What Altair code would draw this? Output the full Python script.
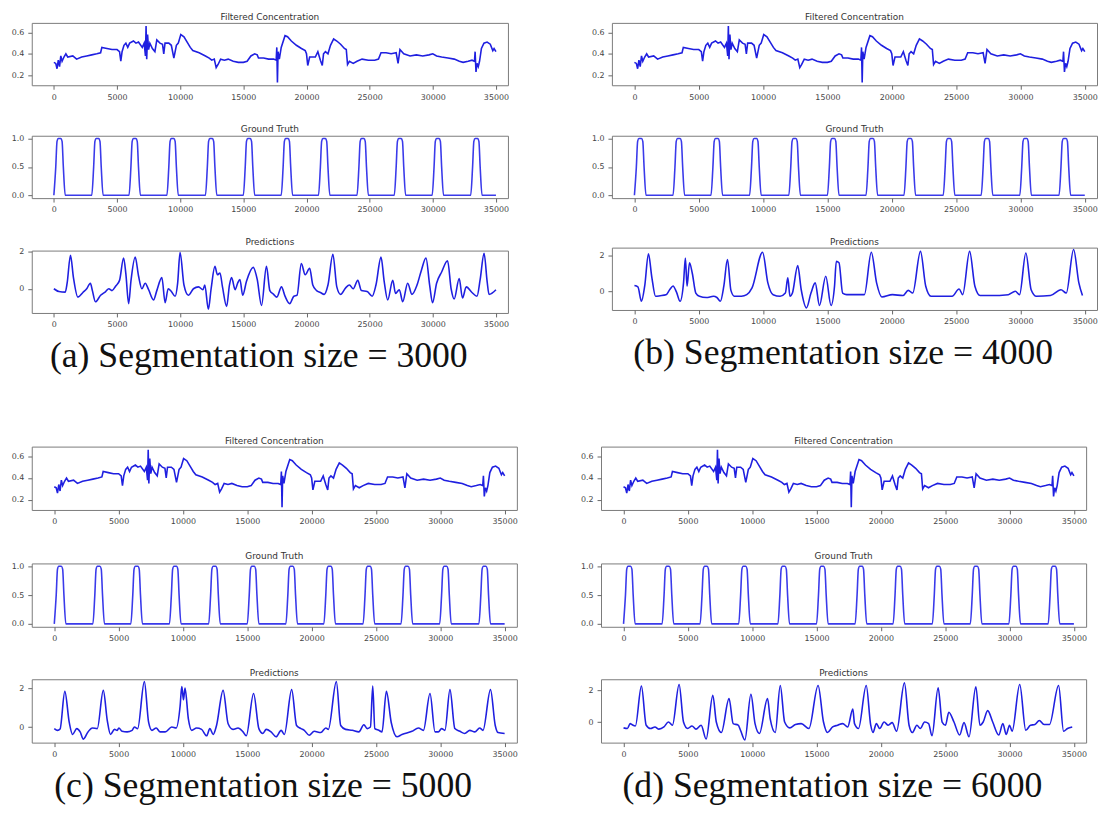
import altair as alt
import pandas as pd

# ---------------- data ----------------
X_TICKS = [0, 5000, 10000, 15000, 20000, 25000, 30000, 35000]

# Filtered Concentration (identical in all four sub-figures)
FC_X = [0, 150, 250, 350, 450, 550, 650, 800, 950, 1100, 1500, 1800, 2200, 2600, 3000, 3400, 3700, 3800,
        4200, 4600, 5000, 5200, 5300, 5400, 5550, 5700, 5850, 6000, 6300, 6500, 6700, 7000, 7150, 7250,
        7300, 7350, 7420, 7500, 7600, 7800, 8000, 8150, 8400, 8600, 8700, 8800, 9100, 9300, 9500, 9700,
        9850, 10050, 10300, 10600, 10800, 11000, 11500, 12000, 12300, 12500, 12700, 12850, 13000, 13200,
        13500, 13800, 14200, 14600, 15000, 15300, 15600, 15900, 16100, 16200, 16600, 17000, 17400, 17600,
        17650, 17700, 17750, 17850, 18000, 18300, 18500, 18800, 19200, 19600, 19900, 20000, 20100, 20250,
        20700, 20900, 21000, 21100, 21250, 21350, 21500, 21700, 21900, 22150, 22400, 22700, 23000, 23150,
        23250, 23400, 23700, 24000, 24400, 24900, 25400, 25700, 25900, 26300, 26700, 27100, 27250, 27400,
        27700, 28200, 28700, 29200, 29700, 30000, 30300, 30700, 31200, 31700, 32100, 32400, 32800, 33100,
        33300, 33350, 33420, 33500, 33600, 33700, 33850, 34050, 34300, 34550, 34750, 34850, 35000]
FC_Y = [0.32, 0.31, 0.26, 0.34, 0.28, 0.38, 0.33, 0.37, 0.40, 0.37, 0.38, 0.35, 0.37, 0.38, 0.39, 0.40, 0.41, 0.46,
        0.45, 0.44, 0.44, 0.42, 0.33, 0.42, 0.48, 0.50, 0.46, 0.50, 0.52, 0.50, 0.51, 0.46, 0.50, 0.38,
        0.66, 0.35, 0.58, 0.44, 0.50, 0.45, 0.42, 0.53, 0.50, 0.49, 0.40, 0.50, 0.50, 0.48, 0.36, 0.48,
        0.50, 0.58, 0.56, 0.50, 0.46, 0.43, 0.41, 0.38, 0.36, 0.34, 0.35, 0.27, 0.30, 0.35,
        0.34, 0.35, 0.33, 0.32, 0.32, 0.33, 0.38, 0.40, 0.39, 0.36, 0.36, 0.35, 0.35, 0.34,
        0.46, 0.13, 0.42, 0.35, 0.46, 0.57, 0.56, 0.52, 0.48, 0.45, 0.43, 0.40, 0.29, 0.37,
        0.37, 0.42, 0.38, 0.34, 0.29, 0.40, 0.42, 0.40, 0.48, 0.54, 0.52, 0.49, 0.45, 0.44,
        0.30, 0.33, 0.31, 0.33, 0.35, 0.34, 0.34, 0.35, 0.41, 0.41, 0.40, 0.41, 0.31, 0.44,
        0.40, 0.38, 0.39, 0.38, 0.39, 0.40, 0.38, 0.37, 0.36, 0.35, 0.33, 0.32, 0.33, 0.34,
        0.33, 0.42, 0.23, 0.31, 0.28, 0.33, 0.45, 0.50, 0.51, 0.49, 0.43, 0.45, 0.42]

# Ground Truth (identical in all four sub-figures)
GT_X = [0, 150, 250, 350, 550, 650, 750, 900,
        3000, 3150, 3250, 3350, 3550, 3650, 3750, 3900,
        5950, 6100, 6200, 6300, 6500, 6600, 6700, 6850,
        8950, 9100, 9200, 9300, 9500, 9600, 9700, 9850,
        12000, 12150, 12250, 12350, 12550, 12650, 12750, 12900,
        15000, 15150, 15250, 15350, 15550, 15650, 15750, 15900,
        18000, 18150, 18250, 18350, 18550, 18650, 18750, 18900,
        20950, 21100, 21200, 21300, 21500, 21600, 21700, 21850,
        24000, 24150, 24250, 24350, 24550, 24650, 24750, 24900,
        26950, 27100, 27200, 27300, 27500, 27600, 27700, 27850,
        29950, 30100, 30200, 30300, 30500, 30600, 30700, 30850,
        33000, 33150, 33250, 33350, 33550, 33650, 33750, 33900,
        35000]
GT_Y = [0, 0.5, 0.95, 1, 1, 0.95, 0.5, 0,
        0, 0.5, 0.95, 1, 1, 0.95, 0.5, 0,
        0, 0.5, 0.95, 1, 1, 0.95, 0.5, 0,
        0, 0.5, 0.95, 1, 1, 0.95, 0.5, 0,
        0, 0.5, 0.95, 1, 1, 0.95, 0.5, 0,
        0, 0.5, 0.95, 1, 1, 0.95, 0.5, 0,
        0, 0.5, 0.95, 1, 1, 0.95, 0.5, 0,
        0, 0.5, 0.95, 1, 1, 0.95, 0.5, 0,
        0, 0.5, 0.95, 1, 1, 0.95, 0.5, 0,
        0, 0.5, 0.95, 1, 1, 0.95, 0.5, 0,
        0, 0.5, 0.95, 1, 1, 0.95, 0.5, 0,
        0, 0.5, 0.95, 1, 1, 0.95, 0.5, 0,
        0]

# Predictions, segmentation size 3000
PA_X = [0, 400, 900, 1050, 1315, 1550, 1900, 2300, 2600, 2890, 3050, 3290, 3700, 4100, 4350, 4600, 4900,
        5200, 5520, 5700, 5920, 6100, 6440, 6700, 6970, 7230, 7500, 7890, 8150, 8550, 8810, 9050, 9300,
        9600, 9800, 9990, 10300, 10650, 11050, 11450, 11800, 11950, 12230, 12450, 12750, 12950, 13150,
        13350, 13680, 13900, 14070, 14350, 14550, 14730, 14950, 15250, 15780, 16100, 16440, 16830, 17100,
        17400, 17650, 18020, 18300, 18670, 19000, 19250, 19590, 19900, 20250, 20500, 20800, 21100, 21400,
        21700, 22090, 22400, 22700, 23100, 23400, 23700, 24060, 24350, 24800, 25200, 25500, 25900, 26150,
        26430, 26830, 27050, 27350, 27620, 28010, 28350, 28750, 29100, 29460, 29750, 29980, 30300, 30700,
        31170, 31450, 31690, 32090, 32350, 32650, 33100, 33500, 33750, 34060, 34300, 34450, 35000]
PA_Y = [0.0, -0.15, -0.18, 0.3, 1.8, 0.6, -0.45, -0.2, 0.0, 0.3, -0.1, -0.7, -0.35, -0.15, 0.0, -0.1, 0.15,
        0.45, 1.65, 0.8, -0.8, 0.4, 1.7, 0.7, 0.0, 0.3, -0.05, -0.6, -0.1, 0.6, -0.75, 0.0, -0.15,
        -0.4, 0.3, 1.95, 0.2, -0.35, 0.0, 0.1, -0.05, 0.2, -1.1, 0.0, 1.2, 0.75, 0.85,
        0.1, -0.95, 0.2, 0.6, -0.05, 0.3, 0.5, -0.35, 0.4, 1.15, 0.5, -0.9, 1.2, -0.1,
        -0.3, -0.45, 0.1, -0.4, -0.8, -0.4, -0.35, 1.35, 0.75, 1.1, 0.2, -0.1, -0.2, -0.3,
        0.2, 1.85, 0.1, -0.3, 0.05, 0.2, 0.0, 0.45, -0.1, -0.15, -0.4, 0.2, 1.7, 0.4,
        -0.6, 0.45, -0.25, -0.05, -0.7, 0.3, -0.3, 0.2, 1.0, 1.65, 0.2, -0.75, 0.3, 0.9,
        1.5, 0.0, -0.55, 0.55, -0.5, 0.1, -0.2, -0.4, 0.5, 1.9, 0.4, -0.3, -0.05]

# Predictions, segmentation size 4000
PB_X = [0, 270, 545, 800, 1090, 1350, 1640, 2000, 2450, 2750, 3000, 3270, 3550, 3820, 3960, 4090, 4280,
        4500, 4770, 5050, 5590, 6140, 6410, 6680, 6950, 7230, 7500, 7770, 8320, 8730, 9140, 9960, 10370,
        10780, 11320, 11730, 11920, 12090, 12280, 12690, 12960, 13370, 13720, 14050, 14380, 14870, 15280,
        15550, 15690, 15900, 16180, 16500, 17870, 18410, 18820, 19230, 20050, 20870, 21280, 21630, 22230,
        22640, 23050, 23870, 24690, 25230, 25510, 26050, 26460, 26870, 27690, 29060, 29600, 29930, 30420,
        30830, 31240, 32330, 33150, 33560, 34130, 34540, 34820]
PB_Y = [0.32, 0.25, -0.56, 0.3, 2.1, 0.8, -0.28, -0.25, -0.2, 0.1, 0.3, -0.05, -0.56, 0.5, 1.87, 0.28, 1.6,
        1.0, -0.1, -0.28, -0.35, -0.28, -0.35, -0.56, 0.3, 1.78, 0.05, -0.28, -0.28, -0.19, 0.19, 2.19, 0.47,
        -0.19, -0.28, -0.1, 0.75, -0.28, -0.1, 1.44, 0.1, -0.93, -0.1, 0.47, -0.8, 0.84, -0.8,
        0.28, 1.68, 1.6, -0.1, -0.19, -0.19, 2.19, 0.47, -0.32, -0.19, -0.24, 0.05, -0.1, 2.24,
        0.28, -0.28, -0.28, -0.28, 0.13, -0.19, 2.24, 0.28, -0.24, -0.24, -0.19, 0.0, -0.19, 2.15,
        0.09, -0.28, -0.24, 0.09, -0.1, 2.34, 0.47, -0.24]

# Predictions, segmentation size 5000
PC_X = [0, 260, 450, 820, 1160, 1420, 1750, 2010, 2260, 2620, 2960, 3340, 3810, 4120, 4370, 4680, 4890,
        5020, 5270, 5660, 6050, 6230, 6480, 7000, 7330, 7590, 7920, 8230, 8620, 9130, 9470, 9780, 9910,
        10040, 10160, 10420, 10680, 11060, 11450, 11840, 12090, 12350, 12610, 13120, 13510, 13890, 14280,
        14670, 14920, 15490, 15900, 16210, 16470, 16850, 17240, 17630, 17880, 18450, 18830, 19170, 19430,
        19810, 20200, 20710, 21100, 21300, 21920, 22260, 22640, 23160, 23670, 24060, 24320, 24570, 24750,
        24910, 25220, 25470, 25810, 26190, 26630, 27020, 27800, 28300, 28690, 29200, 29590, 29850, 30100,
        30360, 30750, 31130, 31520, 31900, 32290, 32680, 33060, 33320, 33900, 34270, 34480, 35000]
PC_Y = [-0.08, -0.17, -0.1, 1.83, 0.25, -0.38, -0.08, -0.25, -0.62, -0.25, -0.05, -0.08, 1.88, 0.33, -0.38, -0.12, -0.17,
        -0.05, -0.22, -0.25, -0.17, 0.0, -0.08, 2.33, 0.25, -0.17, -0.05, -0.25, -0.25, 0.0, -0.05, 1.08, 2.08,
        1.4, 2.0, 0.42, -0.17, -0.05, -0.12, -0.45, -0.08, -0.38, 0.08, 1.88, 0.17, -0.12, -0.05,
        -0.25, -0.45, 1.72, -0.08, -0.33, -0.12, -0.25, -0.5, -0.17, -0.38, 1.92, 0.08, -0.08, -0.17,
        -0.42, -0.22, -0.28, -0.05, -0.12, 2.33, 0.08, -0.12, -0.17, -0.25, 0.12, -0.08, 0.0, 2.1,
        -0.08, -0.17, -0.25, 1.83, 0.22, -0.5, -0.38, -0.22, -0.05, -0.17, 1.72, -0.25, -0.25, -0.08,
        -0.17, 1.92, -0.08, -0.22, -0.33, -0.17, -0.25, -0.05, -0.17, 1.92, 0.08, -0.28, -0.33]

# Predictions, segmentation size 6000
PD_X = [0, 300, 520, 650, 920, 1390, 1760, 2100, 2440, 2750, 3140, 3490, 3800, 4320, 4660, 4980, 5320,
        5630, 6030, 6420, 6940, 7210, 7600, 8200, 8520, 8910, 9090, 9430, 9900, 10220, 10560, 11190, 11400,
        11790, 12180, 12520, 12920, 13360, 13810, 14410, 15120, 15540, 15850, 16250, 16640, 17030, 17420,
        17820, 17950, 18260, 18860, 19210, 19390, 19650, 19910, 20250, 20570, 20880, 21220, 21830, 22190,
        22450, 22800, 23060, 23400, 23710, 23970, 24450, 24760, 25020, 25280, 25680, 26120, 26460, 26850,
        27380, 27700, 27950, 28300, 28690, 29160, 29480, 29740, 30000, 30200, 30790, 31260, 31630, 31970,
        32310, 32680, 33100, 33810, 34200, 34500, 34870]
PD_Y = [-0.37, -0.41, -0.1, -0.16, -0.25, 2.27, -0.2, -0.41, -0.31, -0.45, -0.31, 0.0, -0.2, 2.37, 0.0, -0.41, -0.25,
        -0.45, -0.2, -1.07, 1.69, 0.0, -0.66, 1.48, -0.1, -0.2, -0.52, -1.13, 1.75, -0.1, -0.72, 1.48, 0.2,
        -0.66, 2.31, 0.0, -0.37, -0.16, -0.1, -0.41, 2.31, 0.0, -0.66, -0.31, -0.2, -0.1, -0.31,
        0.82, -0.1, -0.41, 2.31, -0.2, -0.66, -0.1, -0.41, 0.0, -0.2, -0.04, -0.58, 2.47, -0.2,
        -0.66, -0.2, -0.41, 0.0, -0.1, -0.87, 2.16, 0.0, -0.2, 0.62, 0.0, -0.82, -0.04, -0.93,
        2.23, -0.2, 0.0, 0.72, 0.0, -0.82, -0.1, -0.78, -0.2, -0.58, 2.37, -0.52, -0.2, -0.16,
        0.1, -0.16, -0.16, 2.31, -0.58, -0.41, -0.31]

CAPTIONS = ["(a) Segmentation size = 3000", "(b) Segmentation size = 4000",
            "(c) Segmentation size = 5000", "(d) Segmentation size = 6000"]
PANEL_TITLES = ["Filtered Concentration", "Ground Truth", "Predictions"]

# ---------------- styling ----------------
X_DOMAIN = [-1750, 35950]
LINE_COLOR = "#1f1fe0"
SANS = "DejaVu Sans"
SERIF = "Liberation Serif"


def panel(xs, ys, title, ydomain, yticks, yfmt, width, height, interp, color=LINE_COLOR):
    df = pd.DataFrame({"x": xs, "y": ys})
    return alt.Chart(df).mark_line(
        color=color, strokeWidth=1.6, interpolate=interp, clip=True
    ).encode(
        x=alt.X("x:Q", scale=alt.Scale(domain=X_DOMAIN, nice=False, zero=False),
                axis=alt.Axis(values=X_TICKS, format="d", title=None)),
        y=alt.Y("y:Q", scale=alt.Scale(domain=ydomain, nice=False, zero=False),
                axis=alt.Axis(values=yticks, format=yfmt, title=None, minExtent=23, maxExtent=23)),
    ).properties(
        width=width, height=height,
        title=alt.TitleParams(title, font=SANS, fontSize=9, fontWeight="normal",
                              color="#333333", offset=1),
    )


def column(pred_x, pred_y, pred_domain, caption, width, height, spacing):
    p1 = panel(FC_X, FC_Y, PANEL_TITLES[0], [0.105, 0.69], [0.2, 0.4, 0.6], ".1f",
               width, height, "linear")
    p2 = panel(GT_X, GT_Y, PANEL_TITLES[1], [-0.05, 1.05], [0.0, 0.5, 1.0], ".1f",
               width, height, "monotone", color="#3a3aea")
    p3 = panel(pred_x, pred_y, PANEL_TITLES[2], pred_domain, [0, 2], "d",
               width, height, "monotone")
    return alt.vconcat(p1, p2, p3, spacing=spacing).properties(
        title=alt.TitleParams(caption, orient="bottom", anchor="middle", font=SERIF,
                              fontSize=36, fontWeight="normal", color="#111111", offset=10)
    )


colA = column(PA_X, PA_Y, [-1.3, 2.05], CAPTIONS[0], 481, 63, 22)
colB = column(PB_X, PB_Y, [-1.05, 2.45], CAPTIONS[1], 490, 63, 22)
colC = column(PC_X, PC_Y, [-0.8, 2.45], CAPTIONS[2], 490, 64, 25)
colD = column(PD_X, PD_Y, [-1.3, 2.7], CAPTIONS[3], 490, 64, 25)

row1 = alt.hconcat(colA, colB, spacing=79)
row2 = alt.hconcat(colC, colD, spacing=60)

chart = alt.vconcat(row1, row2, spacing=62).properties(
    padding=0, background="white"
).configure_view(
    stroke="#7a7a7a", strokeWidth=1
).configure_axis(
    grid=False, domain=False, tickColor="#666666", tickSize=4, labelFont=SANS,
    labelFontSize=8, labelColor="#444444", labelPadding=4
)

chart.save("out.html", embed_options={"renderer": "svg", "actions": False})
